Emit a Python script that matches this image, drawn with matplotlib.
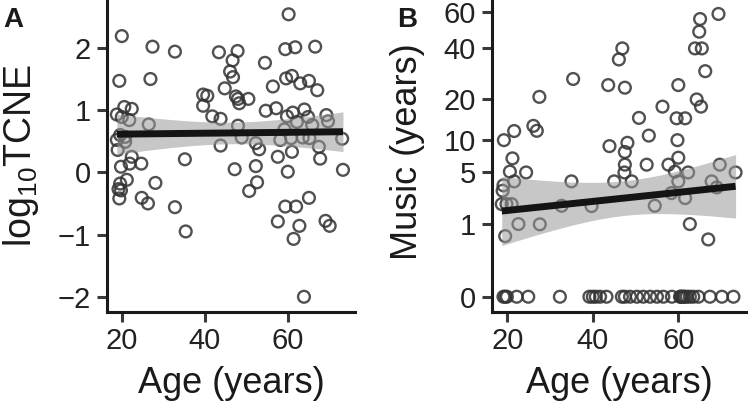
import numpy as np
import matplotlib
matplotlib.use("Agg")
import matplotlib.pyplot as plt

plt.rcParams['font.family'] = ['Liberation Sans', 'DejaVu Sans']
plt.rcParams['mathtext.fontset'] = 'custom'
plt.rcParams['mathtext.rm'] = 'Liberation Sans'
plt.rcParams['mathtext.default'] = 'regular'

# ---------------- Panel A data: age vs log10 TCNE ----------------
age_a = [60.2, 20.0, 27.4, 32.8, 43.4, 47.9, 46.7, 59.4, 61.8, 66.6,
         54.5, 19.4, 26.9, 46.1, 46.8, 44.8, 56.4, 59.6, 61.0, 63.0,
         65.1, 67.1, 39.6, 40.6, 39.6, 47.5, 48.0, 48.3, 50.5, 41.8,
         43.8, 54.7, 57.2, 59.8, 61.2, 64.0, 69.3, 69.7, 62.2, 64.9,
         65.9, 59.2, 48.0, 43.8, 48.9, 52.3, 53.1, 58.2, 60.8, 63.6,
         65.2, 67.5, 73.1, 61.0, 57.6, 67.8, 60.0, 73.3, 52.3, 47.2,
         50.7, 52.6, 35.2, 26.5, 59.4, 62.0, 65.1, 57.6, 62.8, 61.4,
         69.1, 70.1, 63.9, 32.8, 35.4, 28.1, 24.8, 26.3, 24.7, 18.8,
         20.6, 22.4, 20.0, 21.8, 18.8, 19.6, 20.8, 19.0, 22.4, 21.9,
         19.8, 21.2, 19.6, 19.2, 19.4, 20.8, 19.8]
tcne_a = [2.54, 2.19, 2.02, 1.94, 1.93, 1.95, 1.80, 1.98, 2.01, 2.02,
          1.76, 1.47, 1.50, 1.62, 1.53, 1.35, 1.38, 1.51, 1.55, 1.43,
          1.47, 1.32, 1.25, 1.23, 1.07, 1.22, 1.18, 1.11, 1.18, 0.90,
          0.86, 0.99, 1.03, 0.90, 0.96, 1.01, 0.92, 0.82, 0.81, 0.89,
          0.76, 0.69, 0.75, 0.43, 0.56, 0.47, 0.37, 0.52, 0.55, 0.56,
          0.55, 0.41, 0.54, 0.33, 0.25, 0.22, 0.01, 0.04, 0.10, 0.05,
          -0.30, -0.16, 0.21, 0.77, -0.55, -0.55, -0.41, -0.79, -0.86, -1.07,
          -0.78, -0.86, -2.00, -0.56, -0.95, -0.17, -0.41, -0.50, 0.14, 0.93,
          1.05, 1.02, 0.89, 0.84, 0.52, 0.60, 0.49, 0.36, 0.25, 0.14,
          0.09, -0.12, -0.18, -0.27, -0.42, 0.57, -0.29]

# ---------------- Panel B data: age vs music (years) ----------------
age_b = [69.4, 65.1, 64.9, 63.9, 65.5, 66.3, 46.9, 46.1, 43.6, 47.5,
         35.4, 60.0, 64.3, 65.3, 56.3, 50.8, 59.6, 61.6, 53.1, 59.8,
         27.5, 26.1, 26.9, 21.6, 19.2, 48.1, 43.9, 47.5, 47.5, 47.4,
         45.0, 49.1, 52.6, 57.7, 60.0, 59.2, 60.0, 62.3, 58.4, 61.6,
         69.7, 73.4, 67.8, 69.0, 54.5, 62.7, 67.0, 35.0, 32.7, 39.7,
         22.6, 27.6, 19.5, 21.2, 20.6, 24.4, 21.6, 19.1, 18.9, 18.7,
         19.8, 21.0,
         # zero years of music
         19.1, 19.5, 19.9, 22.2, 24.9, 32.3, 39.2, 40.0, 40.7, 41.7,
         43.2, 46.8, 47.5, 48.7, 50.3, 51.8, 53.4, 55.0, 56.5, 58.5,
         60.4, 60.6, 60.8, 61.2, 61.5, 62.0, 62.7, 63.5, 64.7, 67.4,
         70.2, 72.9]
music_b = [58.9, 55.8, 48.5, 39.9, 39.9, 29.9, 39.9, 34.8, 24.7, 23.8,
           26.9, 24.7, 20.0, 17.9, 17.9, 14.9, 14.8, 14.8, 10.9, 10.0,
           20.8, 13.0, 11.9, 11.85, 10.0, 9.5, 8.9, 7.9, 6.0, 5.0,
           4.0, 4.0, 6.0, 6.0, 7.0, 5.1, 4.0, 5.0, 2.9, 2.5,
           6.0, 5.0, 4.0, 3.4, 1.96, 1.0, 0.49, 4.0, 1.96, 1.94,
           1.0, 0.99, 0.58, 6.9, 5.1, 5.0, 4.0, 3.6, 3.1, 2.07,
           2.07, 2.07,
           0, 0, 0, 0, 0, 0, 0, 0, 0, 0,
           0, 0, 0, 0, 0, 0, 0, 0, 0, 0,
           0, 0, 0, 0, 0, 0, 0, 0, 0, 0,
           0, 0]

tcne_ticks = [-2, -1, 0, 1, 2]
music_ticks = [0, 1, 5, 10, 20, 40, 60]
age_ticks = [20, 40, 60]

T_CRIT = 1.986


def lm_band(x, y, xs):
    x = np.asarray(x, float)
    y = np.asarray(y, float)
    n = len(x)
    xb = x.mean()
    sxx = ((x - xb) ** 2).sum()
    b = ((x - xb) * (y - y.mean())).sum() / sxx
    a = y.mean() - b * xb
    s = np.sqrt(((y - (a + b * x)) ** 2).sum() / (n - 2))
    fit = a + b * xs
    se = s * np.sqrt(1.0 / n + (xs - xb) ** 2 / sxx)
    return fit, fit - T_CRIT * se, fit + T_CRIT * se


W, H = 748, 404
fig = plt.figure(figsize=(W / 100, H / 100), dpi=100)

axA = fig.add_axes([106.7 / W, 92.3 / H, (355 - 106.7) / W, 311.7 / H])
axB = fig.add_axes([491.5 / W, 92.3 / H, (746.7 - 491.5) / W, 311.7 / H])

pt_kw = dict(s=72, facecolors='none', edgecolors='#333333', linewidths=1.7,
             alpha=0.85, zorder=2)
band_col = '#999999'

# Panel A
axA.scatter(age_a, tcne_a, **pt_kw)
xs = np.linspace(min(age_a), max(age_a), 120)
f, lo, hi = lm_band(age_a, tcne_a, xs)
axA.fill_between(xs, lo, hi, color=band_col, alpha=0.55, lw=0, zorder=3)
axA.plot(xs, f, color='#141414', lw=5, zorder=4, solid_capstyle='butt')
axA.set_xlim(16.36, 76.2)
axA.set_ylim(-2.24, 2.77)
axA.set_yticks(tcne_ticks)
axA.set_yticklabels(['\u22122', '\u22121', '0', '1', '2'])

# Panel B (cube-root scale)
axB.set_yscale('function', functions=(np.cbrt, lambda v: np.power(v, 3)))
axB.scatter(age_b, music_b, **pt_kw)
xs = np.linspace(min(age_b), max(age_b), 120)
f, lo, hi = lm_band(age_b, np.cbrt(np.asarray(music_b, float)), xs)
axB.fill_between(xs, lo ** 3, hi ** 3, color=band_col, alpha=0.55, lw=0, zorder=3)
axB.plot(xs, f ** 3, color='#141414', lw=5, zorder=4, solid_capstyle='butt')
axB.set_xlim(16.3, 76.0)
axB.set_ylim((-0.206) ** 3, 4.083 ** 3)
axB.set_yticks(music_ticks)
axB.set_yticklabels([str(t) for t in music_ticks])
axB.yaxis.set_minor_locator(matplotlib.ticker.NullLocator())

for ax in (axA, axB):
    ax.set_xticks(age_ticks)
    for sp in ('top', 'right'):
        ax.spines[sp].set_visible(False)
    for sp in ('left', 'bottom'):
        ax.spines[sp].set_linewidth(2.2)
        ax.spines[sp].set_color('#1a1a1a')
        ax.spines[sp].set_capstyle('projecting')
    ax.tick_params(axis='both', which='major', length=7.2, width=2.2,
                   color='#3a3a3a', labelsize=21, labelcolor='#222222', pad=4)
    ax.patch.set_alpha(0)

fig.text(3.3 / W, 1 - 7 / H, 'A', fontsize=20, fontweight='bold',
         ha='left', va='top', color='#1a1a1a')
fig.text(396.7 / W, 1 - 7 / H, 'B', fontsize=20, fontweight='bold',
         ha='left', va='top', color='#1a1a1a')

fig.text(21 / W, 1 - 155 / H, r'log$_{10}$TCNE', fontsize=27, rotation=90,
         ha='center', va='center', color='#1a1a1a')
fig.text(408 / W, 1 - 152 / H, 'Music (years)', fontsize=26, rotation=90,
         ha='center', va='center', color='#1a1a1a')
fig.text(231 / W, 1 - 393 / H, 'Age (years)', fontsize=26,
         ha='center', va='baseline', color='#1a1a1a')
fig.text(619 / W, 1 - 393 / H, 'Age (years)', fontsize=26,
         ha='center', va='baseline', color='#1a1a1a')

fig.savefig('out.png', dpi=100)
